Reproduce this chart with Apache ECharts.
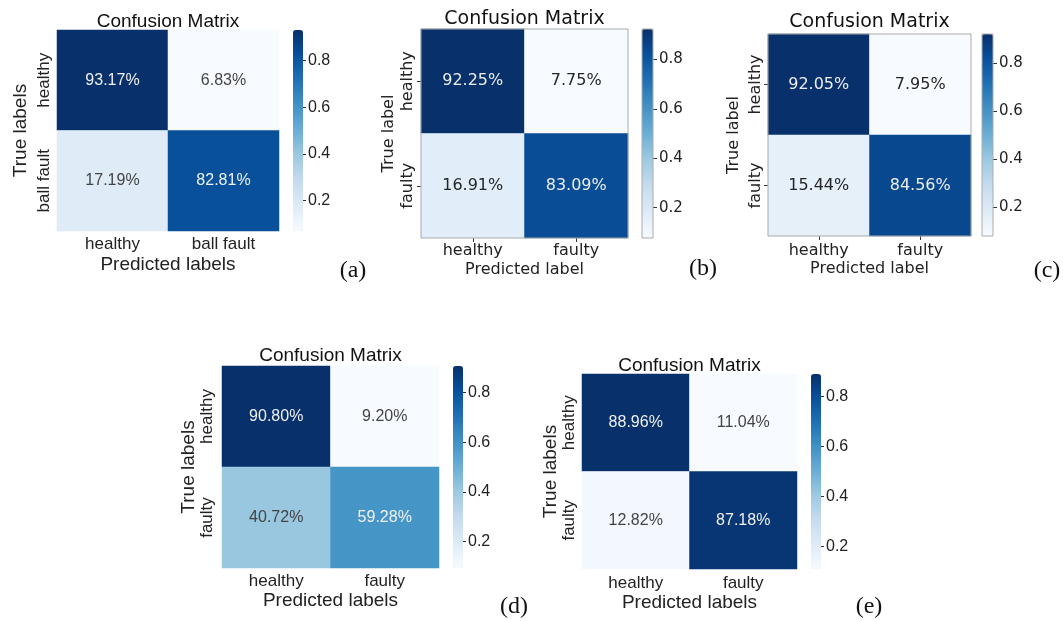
<!DOCTYPE html>
<html>
<head>
<meta charset="utf-8">
<script src="https://cdn.jsdelivr.net/npm/echarts@6/dist/echarts.min.js"></script>
<style>
  html, body { margin: 0; padding: 0; background: #ffffff; }
  #chart { width: 1063px; height: 621px; }
</style>
</head>
<body>
<div id="chart"></div>
<script>
// Class names of each experiment
const classesA = ['healthy', 'ball fault'];
const classesFaulty = ['healthy', 'faulty'];

// Confusion matrices in percent: rows = true label, columns = predicted label
const matrixA = [[93.17, 6.83], [17.19, 82.81]];
const matrixB = [[92.25, 7.75], [16.91, 83.09]];
const matrixC = [[92.05, 7.95], [15.44, 84.56]];
const matrixD = [[90.80, 9.20], [40.72, 59.28]];
const matrixE = [[88.96, 11.04], [12.82, 87.18]];

// Colour bar tick values and panel texts
const colorbarTicks = [0.2, 0.4, 0.6, 0.8];
const panelTags = ['(a)', '(b)', '(c)', '(d)', '(e)'];
const titleText = 'Confusion Matrix';
const yNames = ['True labels', 'True label', 'True label', 'True labels', 'True labels'];
const xNames = ['Predicted labels', 'Predicted label', 'Predicted label', 'Predicted labels', 'Predicted labels'];

// matplotlib "Blues" colour map
const BLUES = ['#f7fbff', '#deebf7', '#c6dbef', '#9ecae1', '#6baed6', '#4292c6', '#2171b5', '#08519c', '#08306b'];

// Two drawing styles: seaborn-like and plain matplotlib-like
const styles = {
  sns: { font: 'Liberation Sans', title: 19, name: 19, tick: 17, cell: 16, cbLabel: 16,
         border: null, tickLen: 0, cbTickLen: 3, dark: '#444444', light: '#f0f0f0' },
  mpl: { font: 'DejaVu Sans', title: 19, name: 16, tick: 16, cell: 16, cbLabel: 15,
         border: '#ababab', tickLen: 4, cbTickLen: 4, dark: '#262626', light: '#eeeeee' }
};

// Panel layout: heat box [left, top, width, height], colour bar [left, width]
const panels = [
  { m: matrixA, cls: classesA, style: 'sns', box: [57, 30, 222, 201], cb: [293, 10],
    titleTop: 12, tag: [353, 271], yLab: 4, yGap: 27, xLab: 5, xGap: 24 },
  { m: matrixB, cls: classesFaulty, style: 'mpl', box: [421, 29, 207, 209], cb: [642, 11],
    titleTop: 10, tag: [703, 269], yLab: 5, yGap: 24, xLab: 5, xGap: 24 },
  { m: matrixC, cls: classesFaulty, style: 'mpl', box: [768, 34, 203, 202], cb: [982, 11],
    titleTop: 13, tag: [1047, 271], yLab: 4, yGap: 26, xLab: 7, xGap: 25 },
  { m: matrixD, cls: classesFaulty, style: 'sns', box: [222, 366, 217, 202], cb: [453, 10],
    titleTop: 346, tag: [514, 607], yLab: 6, yGap: 23, xLab: 5, xGap: 23 },
  { m: matrixE, cls: classesFaulty, style: 'sns', box: [582, 374, 215, 195], cb: [811, 10],
    titleTop: 356, tag: [869, 607], yLab: 4, yGap: 22, xLab: 6, xGap: 24 }
];

const grid = [], xAxis = [], yAxis = [], series = [], visualMap = [], title = [];

panels.forEach(function (p, i) {
  const s = styles[p.style];
  const flat = p.m.flat();
  const vmin = Math.min.apply(null, flat);
  const vmax = Math.max.apply(null, flat);
  const [bx, by, bw, bh] = p.box;
  const heatIdx = grid.length;

  // heatmap grid
  grid.push({ left: bx, top: by, width: bw, height: bh, show: !!s.border,
              borderColor: s.border || 'transparent', borderWidth: 1,
              backgroundColor: 'transparent', z: 5 });
  xAxis.push({
    gridIndex: heatIdx, type: 'category', data: p.cls,
    axisLine: { show: false }, splitLine: { show: false },
    axisTick: { show: s.tickLen > 0, length: s.tickLen, alignWithLabel: true, lineStyle: { color: '#333' } },
    axisLabel: { margin: p.xLab, fontSize: s.tick, fontFamily: s.font, color: '#222' },
    name: xNames[i], nameLocation: 'middle', nameGap: p.xGap,
    nameTextStyle: { fontSize: s.name, fontFamily: s.font, color: '#222' }
  });
  yAxis.push({
    gridIndex: heatIdx, type: 'category', data: p.cls, inverse: true,
    axisLine: { show: false }, splitLine: { show: false },
    axisTick: { show: s.tickLen > 0, length: s.tickLen, alignWithLabel: true, lineStyle: { color: '#333' } },
    axisLabel: { rotate: 90, margin: p.yLab, fontSize: s.tick, fontFamily: s.font, color: '#222' },
    name: yNames[i], nameLocation: 'middle', nameGap: p.yGap,
    nameTextStyle: { fontSize: s.name, fontFamily: s.font, color: '#222' }
  });

  const cells = [];
  p.m.forEach(function (row, r) {
    row.forEach(function (v, c) {
      const t = (v - vmin) / (vmax - vmin);
      cells.push({ value: [c, r, v], label: { color: t > 0.5 ? s.light : s.dark } });
    });
  });
  series.push({
    type: 'heatmap', xAxisIndex: heatIdx, yAxisIndex: heatIdx, data: cells,
    label: { show: true, fontSize: s.cell, fontFamily: s.font,
             formatter: function (d) { return d.value[2].toFixed(2) + '%'; } },
    emphasis: { disabled: true }
  });

  // colour bar axis
  const cbIdx = grid.length;
  grid.push({ left: p.cb[0], top: by, width: p.cb[1], height: bh, show: !!s.border,
              borderColor: s.border || 'transparent', borderWidth: 1,
              backgroundColor: 'transparent', z: 6 });
  xAxis.push({ gridIndex: cbIdx, type: 'category', data: [''], show: false });
  yAxis.push({
    gridIndex: cbIdx, type: 'value', position: 'right', min: vmin / 100, max: vmax / 100,
    axisLine: { show: false }, splitLine: { show: false },
    axisTick: { show: true, length: s.cbTickLen, customValues: colorbarTicks, lineStyle: { color: '#333' } },
    axisLabel: { customValues: colorbarTicks, margin: s.cbTickLen + 2,
                 formatter: function (v) { return v.toFixed(1); },
                 fontSize: s.cbLabel, fontFamily: s.font, color: '#222' }
  });

  visualMap.push({
    type: 'continuous', seriesIndex: i, dimension: 2, min: vmin, max: vmax,
    inRange: { color: BLUES }, calculable: false, hoverLink: false,
    itemWidth: p.cb[1], itemHeight: bh, left: p.cb[0], top: by, padding: 0, text: null,
    orient: 'vertical'
  });

  title.push({
    text: titleText, left: bx + bw / 2, top: p.titleTop, textAlign: 'center', padding: 0,
    textStyle: { fontSize: s.title, fontFamily: s.font, fontWeight: 'normal', color: '#111' }
  });
  title.push({
    text: panelTags[i], left: p.tag[0], top: p.tag[1], textAlign: 'center',
    textVerticalAlign: 'middle', padding: 0,
    textStyle: { fontSize: 24, fontFamily: 'Liberation Serif', fontWeight: 'normal', color: '#111' }
  });
});

const chart = echarts.init(document.getElementById('chart'), null, { renderer: 'canvas' });
chart.setOption({
  animation: false,
  backgroundColor: '#ffffff',
  title: title,
  grid: grid,
  xAxis: xAxis,
  yAxis: yAxis,
  visualMap: visualMap,
  series: series
});
</script>
</body>
</html>
